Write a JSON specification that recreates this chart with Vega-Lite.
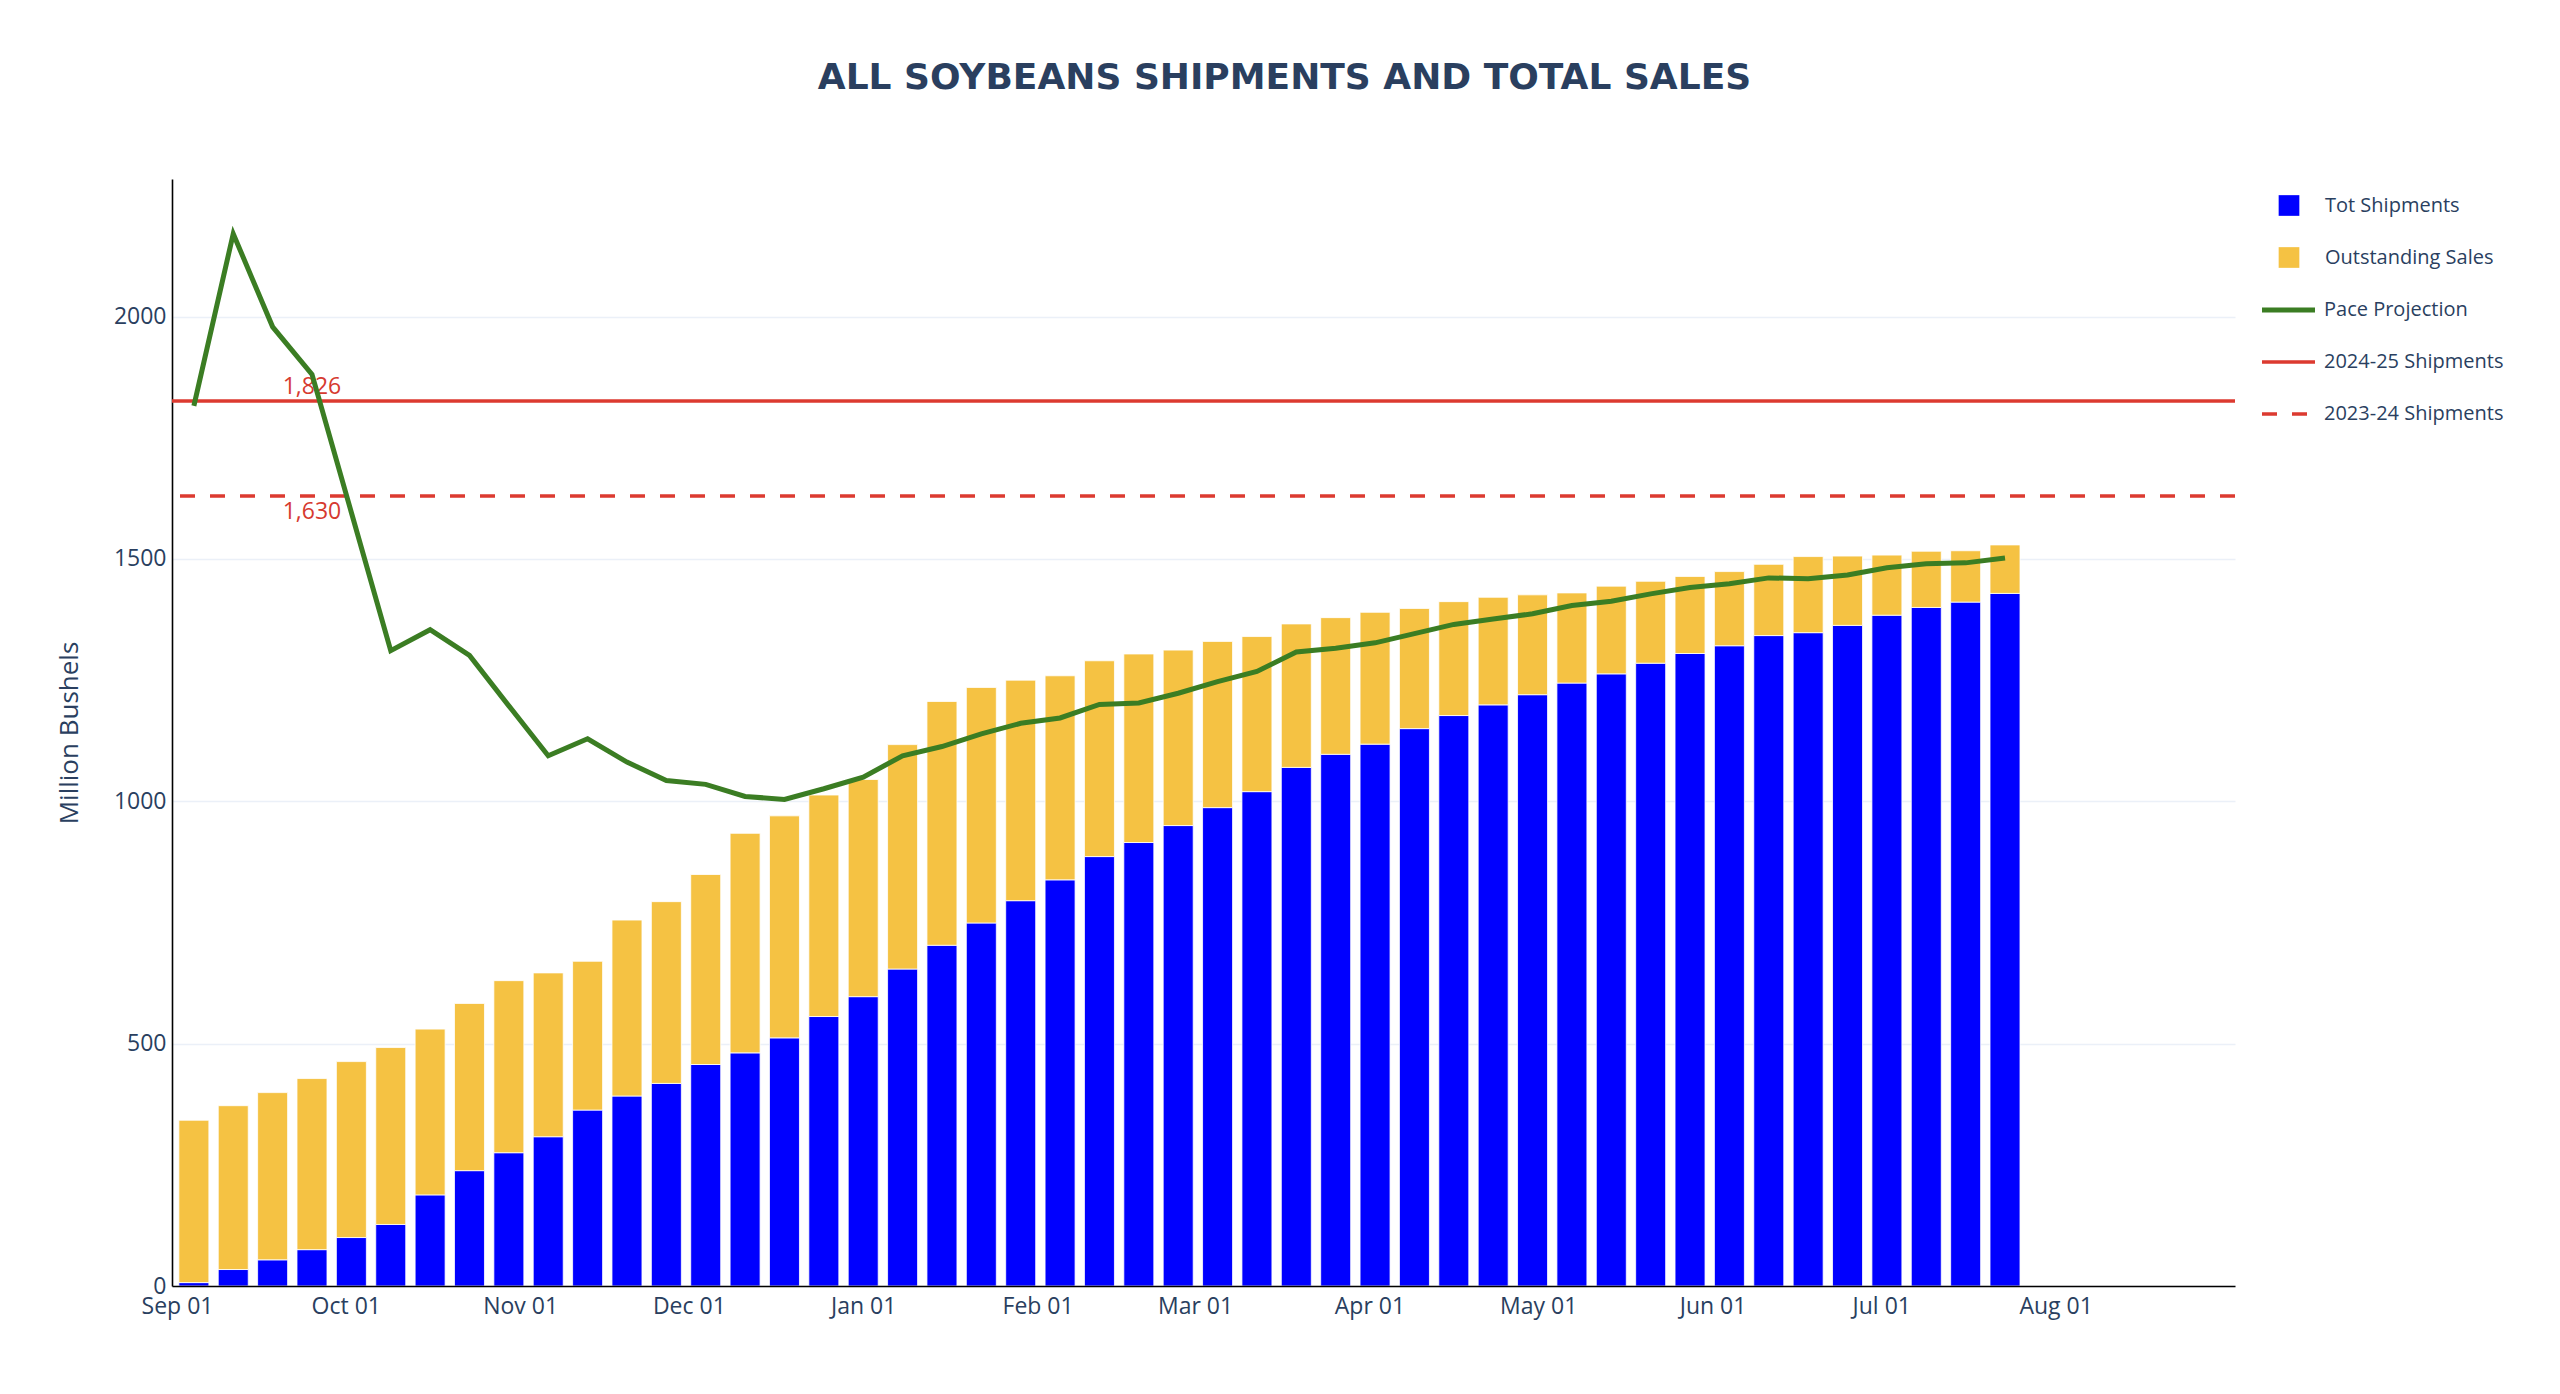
{
  "$schema": "https://vega.github.io/schema/vega-lite/v6.json",
  "autosize": {"type": "none"},
  "width": 2063,
  "height": 1107,
  "padding": {"left": 172, "top": 179, "right": 325, "bottom": 108},
  "background": "white",
  "title": {
    "text": "ALL SOYBEANS SHIPMENTS AND TOTAL SALES",
    "font": "DejaVu Sans",
    "fontSize": 36,
    "fontWeight": "bold",
    "color": "#2a3f5f",
    "anchor": "middle",
    "frame": "group",
    "baseline": "middle",
    "offset": 65,
    "dx": 81
  },
  "datasets": {
    "weekly": [
      {"week": "2024-09-04", "ship": 7, "total": 342, "pace": 1816},
      {"week": "2024-09-11", "ship": 34, "total": 372, "pace": 2171},
      {"week": "2024-09-18", "ship": 54, "total": 399, "pace": 1979},
      {"week": "2024-09-25", "ship": 75, "total": 428, "pace": 1881},
      {"week": "2024-10-02", "ship": 100, "total": 463, "pace": 1596},
      {"week": "2024-10-09", "ship": 127, "total": 492, "pace": 1311},
      {"week": "2024-10-16", "ship": 188, "total": 530, "pace": 1354},
      {"week": "2024-10-23", "ship": 238, "total": 583, "pace": 1301},
      {"week": "2024-10-30", "ship": 275, "total": 630, "pace": 1197},
      {"week": "2024-11-06", "ship": 308, "total": 646, "pace": 1094},
      {"week": "2024-11-13", "ship": 363, "total": 670, "pace": 1129},
      {"week": "2024-11-20", "ship": 392, "total": 755, "pace": 1081},
      {"week": "2024-11-27", "ship": 418, "total": 793, "pace": 1043},
      {"week": "2024-12-04", "ship": 457, "total": 849, "pace": 1035},
      {"week": "2024-12-11", "ship": 481, "total": 934, "pace": 1010},
      {"week": "2024-12-18", "ship": 512, "total": 970, "pace": 1004},
      {"week": "2024-12-25", "ship": 556, "total": 1013, "pace": 1026},
      {"week": "2025-01-01", "ship": 597, "total": 1045, "pace": 1050},
      {"week": "2025-01-08", "ship": 654, "total": 1117, "pace": 1094},
      {"week": "2025-01-15", "ship": 703, "total": 1206, "pace": 1113},
      {"week": "2025-01-22", "ship": 749, "total": 1235, "pace": 1139},
      {"week": "2025-01-29", "ship": 795, "total": 1250, "pace": 1161},
      {"week": "2025-02-05", "ship": 838, "total": 1259, "pace": 1172},
      {"week": "2025-02-12", "ship": 886, "total": 1290, "pace": 1200},
      {"week": "2025-02-19", "ship": 915, "total": 1304, "pace": 1203},
      {"week": "2025-02-26", "ship": 950, "total": 1312, "pace": 1223},
      {"week": "2025-03-05", "ship": 987, "total": 1330, "pace": 1247},
      {"week": "2025-03-12", "ship": 1020, "total": 1340, "pace": 1268},
      {"week": "2025-03-19", "ship": 1070, "total": 1366, "pace": 1308},
      {"week": "2025-03-26", "ship": 1097, "total": 1379, "pace": 1316},
      {"week": "2025-04-02", "ship": 1118, "total": 1390, "pace": 1327},
      {"week": "2025-04-09", "ship": 1150, "total": 1398, "pace": 1346},
      {"week": "2025-04-16", "ship": 1177, "total": 1412, "pace": 1365},
      {"week": "2025-04-23", "ship": 1199, "total": 1421, "pace": 1376},
      {"week": "2025-04-30", "ship": 1220, "total": 1426, "pace": 1387},
      {"week": "2025-05-07", "ship": 1244, "total": 1430, "pace": 1404},
      {"week": "2025-05-14", "ship": 1263, "total": 1444, "pace": 1413},
      {"week": "2025-05-21", "ship": 1285, "total": 1454, "pace": 1428},
      {"week": "2025-05-28", "ship": 1305, "total": 1464, "pace": 1441},
      {"week": "2025-06-04", "ship": 1321, "total": 1474, "pace": 1449},
      {"week": "2025-06-11", "ship": 1342, "total": 1489, "pace": 1461},
      {"week": "2025-06-18", "ship": 1348, "total": 1505, "pace": 1459},
      {"week": "2025-06-25", "ship": 1363, "total": 1506, "pace": 1467},
      {"week": "2025-07-02", "ship": 1384, "total": 1508, "pace": 1482},
      {"week": "2025-07-09", "ship": 1400, "total": 1516, "pace": 1490},
      {"week": "2025-07-16", "ship": 1411, "total": 1517, "pace": 1492},
      {"week": "2025-07-23", "ship": 1429, "total": 1529, "pace": 1502}
    ]
  },
  "data": {"name": "weekly"},
  "layer": [
    {
      "layer": [
        {
          "mark": {"type": "bar", "width": 30, "stroke": "white", "strokeWidth": 0.8},
          "encoding": {
            "x": {
              "field": "week",
              "type": "temporal",
              "scale": {"type": "utc", "domain": [{"year": 2024, "month": 9, "date": 1, "utc": true}, {"year": 2025, "month": 9, "date": 1, "utc": true}]},
              "axis": {
                "title": null,
                "format": "%b %d",
                "values": [
                  {"year": 2024, "month": 9, "date": 1, "utc": true},
                  {"year": 2024, "month": 10, "date": 1, "utc": true},
                  {"year": 2024, "month": 11, "date": 1, "utc": true},
                  {"year": 2024, "month": 12, "date": 1, "utc": true},
                  {"year": 2025, "month": 1, "date": 1, "utc": true},
                  {"year": 2025, "month": 2, "date": 1, "utc": true},
                  {"year": 2025, "month": 3, "date": 1, "utc": true},
                  {"year": 2025, "month": 4, "date": 1, "utc": true},
                  {"year": 2025, "month": 5, "date": 1, "utc": true},
                  {"year": 2025, "month": 6, "date": 1, "utc": true},
                  {"year": 2025, "month": 7, "date": 1, "utc": true},
                  {"year": 2025, "month": 8, "date": 1, "utc": true}
                ],
                "grid": false,
                "labelPadding": 9,
                "labelFlush": false,
                "zindex": 1
              }
            },
            "y": {
              "field": "ship",
              "type": "quantitative",
              "stack": null,
              "title": "Million Bushels",
              "scale": {"domain": [0, 2284], "nice": false},
              "axis": {
                "values": [0, 500, 1000, 1500, 2000],
                "format": "d",
                "grid": true,
                "labelPadding": 6,
                "titleX": -103,
                "titleY": 553.5,
                "titleAngle": -90,
                "titleAlign": "center",
                "titleBaseline": "middle"
              }
            },
            "color": {
              "datum": "Tot Shipments",
              "scale": {"domain": ["Tot Shipments", "Outstanding Sales"], "range": ["#0000FF", "#F5C243"]},
              "legend": {
                "title": null,
                "orient": "none",
                "legendX": 2106.5,
                "legendY": 16,
                "symbolType": "square",
                "symbolSize": 428,
                "symbolStrokeWidth": 0,
                "labelOffset": 25.5,
                "rowPadding": 31
              }
            }
          }
        },
        {
          "mark": {"type": "bar", "width": 30, "stroke": "white", "strokeWidth": 0.8},
          "encoding": {
            "x": {"field": "week", "type": "temporal"},
            "y": {"field": "ship", "type": "quantitative", "stack": null, "title": "Million Bushels"},
            "y2": {"field": "total"},
            "color": {
              "datum": "Outstanding Sales",
              "scale": {"domain": ["Tot Shipments", "Outstanding Sales"], "range": ["#0000FF", "#F5C243"]}
            }
          }
        }
      ]
    },
    {
      "layer": [
        {
          "data": {"values": [{"v": 1826, "label": "1,826", "at": "2024-09-25"}]},
          "layer": [
            {
              "mark": {"type": "rule", "strokeWidth": 3.3},
              "encoding": {
                "y": {"field": "v", "type": "quantitative", "title": "Million Bushels"},
                "color": {
                  "datum": "2024-25 Shipments",
                  "scale": {"domain": ["Pace Projection", "2024-25 Shipments", "2023-24 Shipments"], "range": ["#3B7D23", "#DC3A30", "#DC3A30"]}
                }
              }
            },
            {
              "mark": {"type": "text", "color": "#D63A30", "fontSize": 23, "font": "Open Sans", "baseline": "alphabetic", "align": "center", "dy": -7},
              "encoding": {
                "x": {"field": "at", "type": "temporal"},
                "y": {"field": "v", "type": "quantitative", "title": "Million Bushels"},
                "text": {"field": "label"}
              }
            }
          ]
        },
        {
          "data": {"values": [{"v": 1630, "label": "1,630", "at": "2024-09-25"}]},
          "layer": [
            {
              "mark": {"type": "rule", "strokeWidth": 3.3, "strokeDash": [15, 15]},
              "encoding": {
                "y": {"field": "v", "type": "quantitative", "title": "Million Bushels"},
                "color": {
                  "datum": "2023-24 Shipments",
                  "scale": {"domain": ["Pace Projection", "2024-25 Shipments", "2023-24 Shipments"], "range": ["#3B7D23", "#DC3A30", "#DC3A30"]}
                }
              }
            },
            {
              "mark": {"type": "text", "color": "#D63A30", "fontSize": 23, "font": "Open Sans", "baseline": "alphabetic", "align": "center", "dy": 23},
              "encoding": {
                "x": {"field": "at", "type": "temporal"},
                "y": {"field": "v", "type": "quantitative", "title": "Million Bushels"},
                "text": {"field": "label"}
              }
            }
          ]
        },
        {
          "mark": {"type": "line", "strokeWidth": 5},
          "encoding": {
            "x": {"field": "week", "type": "temporal"},
            "y": {"field": "pace", "type": "quantitative", "title": "Million Bushels"},
            "color": {
              "datum": "Pace Projection",
              "scale": {"domain": ["Pace Projection", "2024-25 Shipments", "2023-24 Shipments"], "range": ["#3B7D23", "#DC3A30", "#DC3A30"]},
              "legend": {
                "title": null,
                "orient": "none",
                "legendX": 2106.5,
                "legendY": 121,
                "symbolType": "stroke",
                "symbolSize": 2809,
                "symbolStrokeWidth": 4,
                "labelOffset": 25.5,
                "rowPadding": 32,
                "encode": {
                  "symbols": {
                    "update": {
                      "strokeDash": {"signal": "datum.value === '2023-24 Shipments' ? [15, 15] : [1, 0]"},
                      "strokeWidth": {"signal": "datum.value === 'Pace Projection' ? 5 : 3.3"}
                    }
                  }
                }
              }
            }
          }
        }
      ]
    }
  ],
  "resolve": {"scale": {"color": "independent"}},
  "config": {
    "font": "Open Sans",
    "view": {"stroke": null},
    "axis": {
      "labelFont": "Open Sans",
      "labelFontSize": 23,
      "labelColor": "#2a3f5f",
      "ticks": false,
      "domainColor": "#000000",
      "domainWidth": 1.6,
      "gridColor": "#EBF0F8",
      "gridWidth": 1.6,
      "titleFont": "Open Sans",
      "titleFontSize": 26,
      "titleFontWeight": "normal",
      "titleColor": "#2a3f5f"
    },
    "legend": {
      "labelFont": "Open Sans",
      "labelFontSize": 20,
      "labelColor": "#2a3f5f",
      "labelLimit": 400
    }
  }
}
